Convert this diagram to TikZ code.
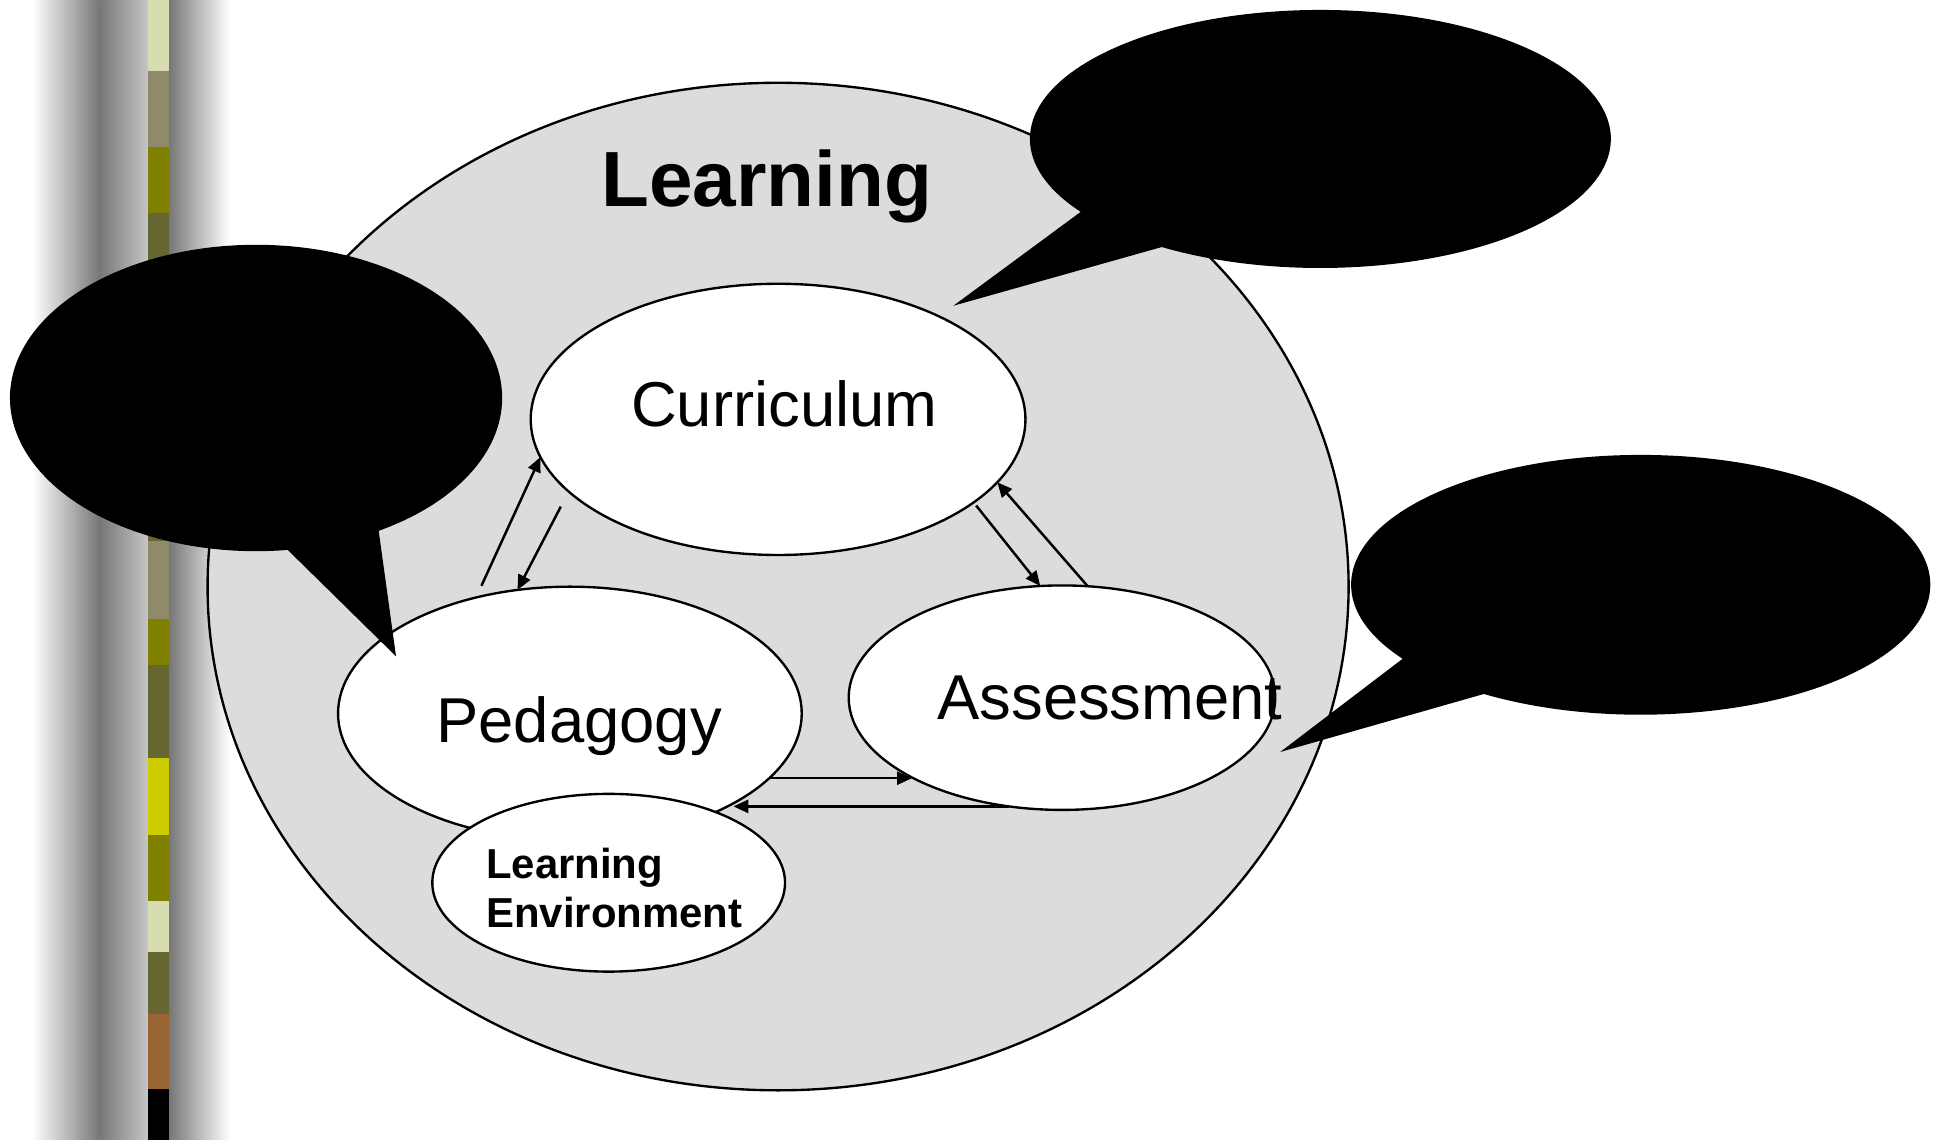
\documentclass[tikz,border=0pt]{standalone}
\usepackage{fontspec}
\setmainfont{Liberation Sans}
\usetikzlibrary{arrows.meta,shapes.geometric,shapes.callouts}

\definecolor{discgray}{HTML}{DCDCDC}
\definecolor{stripgray}{HTML}{777777}
\definecolor{pale}{HTML}{D7DDB1}
\definecolor{khaki}{HTML}{8F8A6A}
\definecolor{olivetone}{HTML}{808000}
\definecolor{darkolive}{HTML}{666633}
\definecolor{mustard}{HTML}{CCCC00}
\definecolor{rust}{HTML}{996633}

\begin{document}
\begin{tikzpicture}[x=1pt, y=-1pt, >={Triangle[length=12pt,width=10.5pt]},
  oval/.style={ellipse, draw, line width=1.9pt, fill=white, inner sep=0pt, outer sep=0pt},
  word/.style={font=\fontsize{51}{58}\selectfont, inner sep=0pt, anchor=base},
  bubble/.style={ellipse callout, fill=black, inner sep=0pt, outer sep=0pt, callout pointer arc=22.5},
  link/.style={->, line width=2pt}]
  \useasboundingbox (0,0) rectangle (1560,917);

  % Left strip
  \shade[left color=white, right color=stripgray] (26,0) rectangle (80,917);
  \shade[left color=stripgray, right color=gray!45] (80,0) rectangle (119,917);
  \shade[left color=stripgray, right color=white] (136,0) rectangle (185,917);
  \foreach \ya/\yb/\col in {0/57/pale, 57/118/khaki, 118/171/olivetone, 171/435/darkolive,
      435/498/khaki, 498/535/olivetone, 535/610/darkolive, 610/672/mustard,
      672/725/olivetone, 725/766/pale, 766/816/darkolive, 816/876/rust, 876/917/black}
    \fill[\col] (119,\ya) rectangle (136,\yb);

  % Learning: the big disc
  \node[ellipse, draw, line width=1.9pt, fill=discgray, inner sep=0pt,
    minimum width=918, minimum height=810.6] (learn) at (626,471.9) {};
  \node[font=\bfseries\fontsize{63}{72}\selectfont, anchor=base, inner sep=0pt] (ttl) at (617,166) {Learning};

  % The three parts and the environment
  \node[oval, minimum width=398, minimum height=218.2] (cur) at (626,337.4) {};
  \node[word] (curtxt) at (631,343.5) {Curriculum};
  \node[oval, minimum width=373, minimum height=204] (ped) at (458.5,574) {};
  \node[word] (pedtxt) at (466,597) {Pedagogy};
  \node[oval, minimum width=343.2, minimum height=180.6] (ass) at (854.4,561.3) {};
  \node[word] (asstxt) at (893,579) {Assessment};
  \node[oval, minimum width=283.8, minimum height=143] (env) at (489.7,710.2) {};
  \node[font=\bfseries\fontsize{33.7}{39.6}\selectfont, align=left, anchor=west, inner sep=0pt]
    (envtxt) at (391,714.7) {Learning\\Environment};

  % Arrows between the parts
  \draw[link, shorten <=10.4pt] (ped.129.1) -- (cur.189.9);
  \draw[link, shorten <=13.7pt] (cur.199) -- (ped.113.4);
  \draw[link, shorten <=3.2pt] (cur.-23.3) -- (ass.101.5);
  \draw[link] (ass.77.2) -- (cur.-16);
  \draw[link] (ped.-18) -- (ped.-18 -| ass.208.5);
  \draw[link] (ass.244.3) -- (ass.244.3 -| env.north east);

  % Speech bubbles
  \node[bubble, minimum width=467.4, minimum height=207.6,
    callout absolute pointer={(767,246)}] (calltop) at (1062.3,111.8) {};
  \node[bubble, minimum width=396, minimum height=246.5,
    callout absolute pointer={(318.6,528)}] (callleft) at (206,320.2) {};
  \node[bubble, minimum width=466, minimum height=209,
    callout absolute pointer={(1030,605)}] (callright) at (1320,470.5) {};
\end{tikzpicture}
\end{document}
